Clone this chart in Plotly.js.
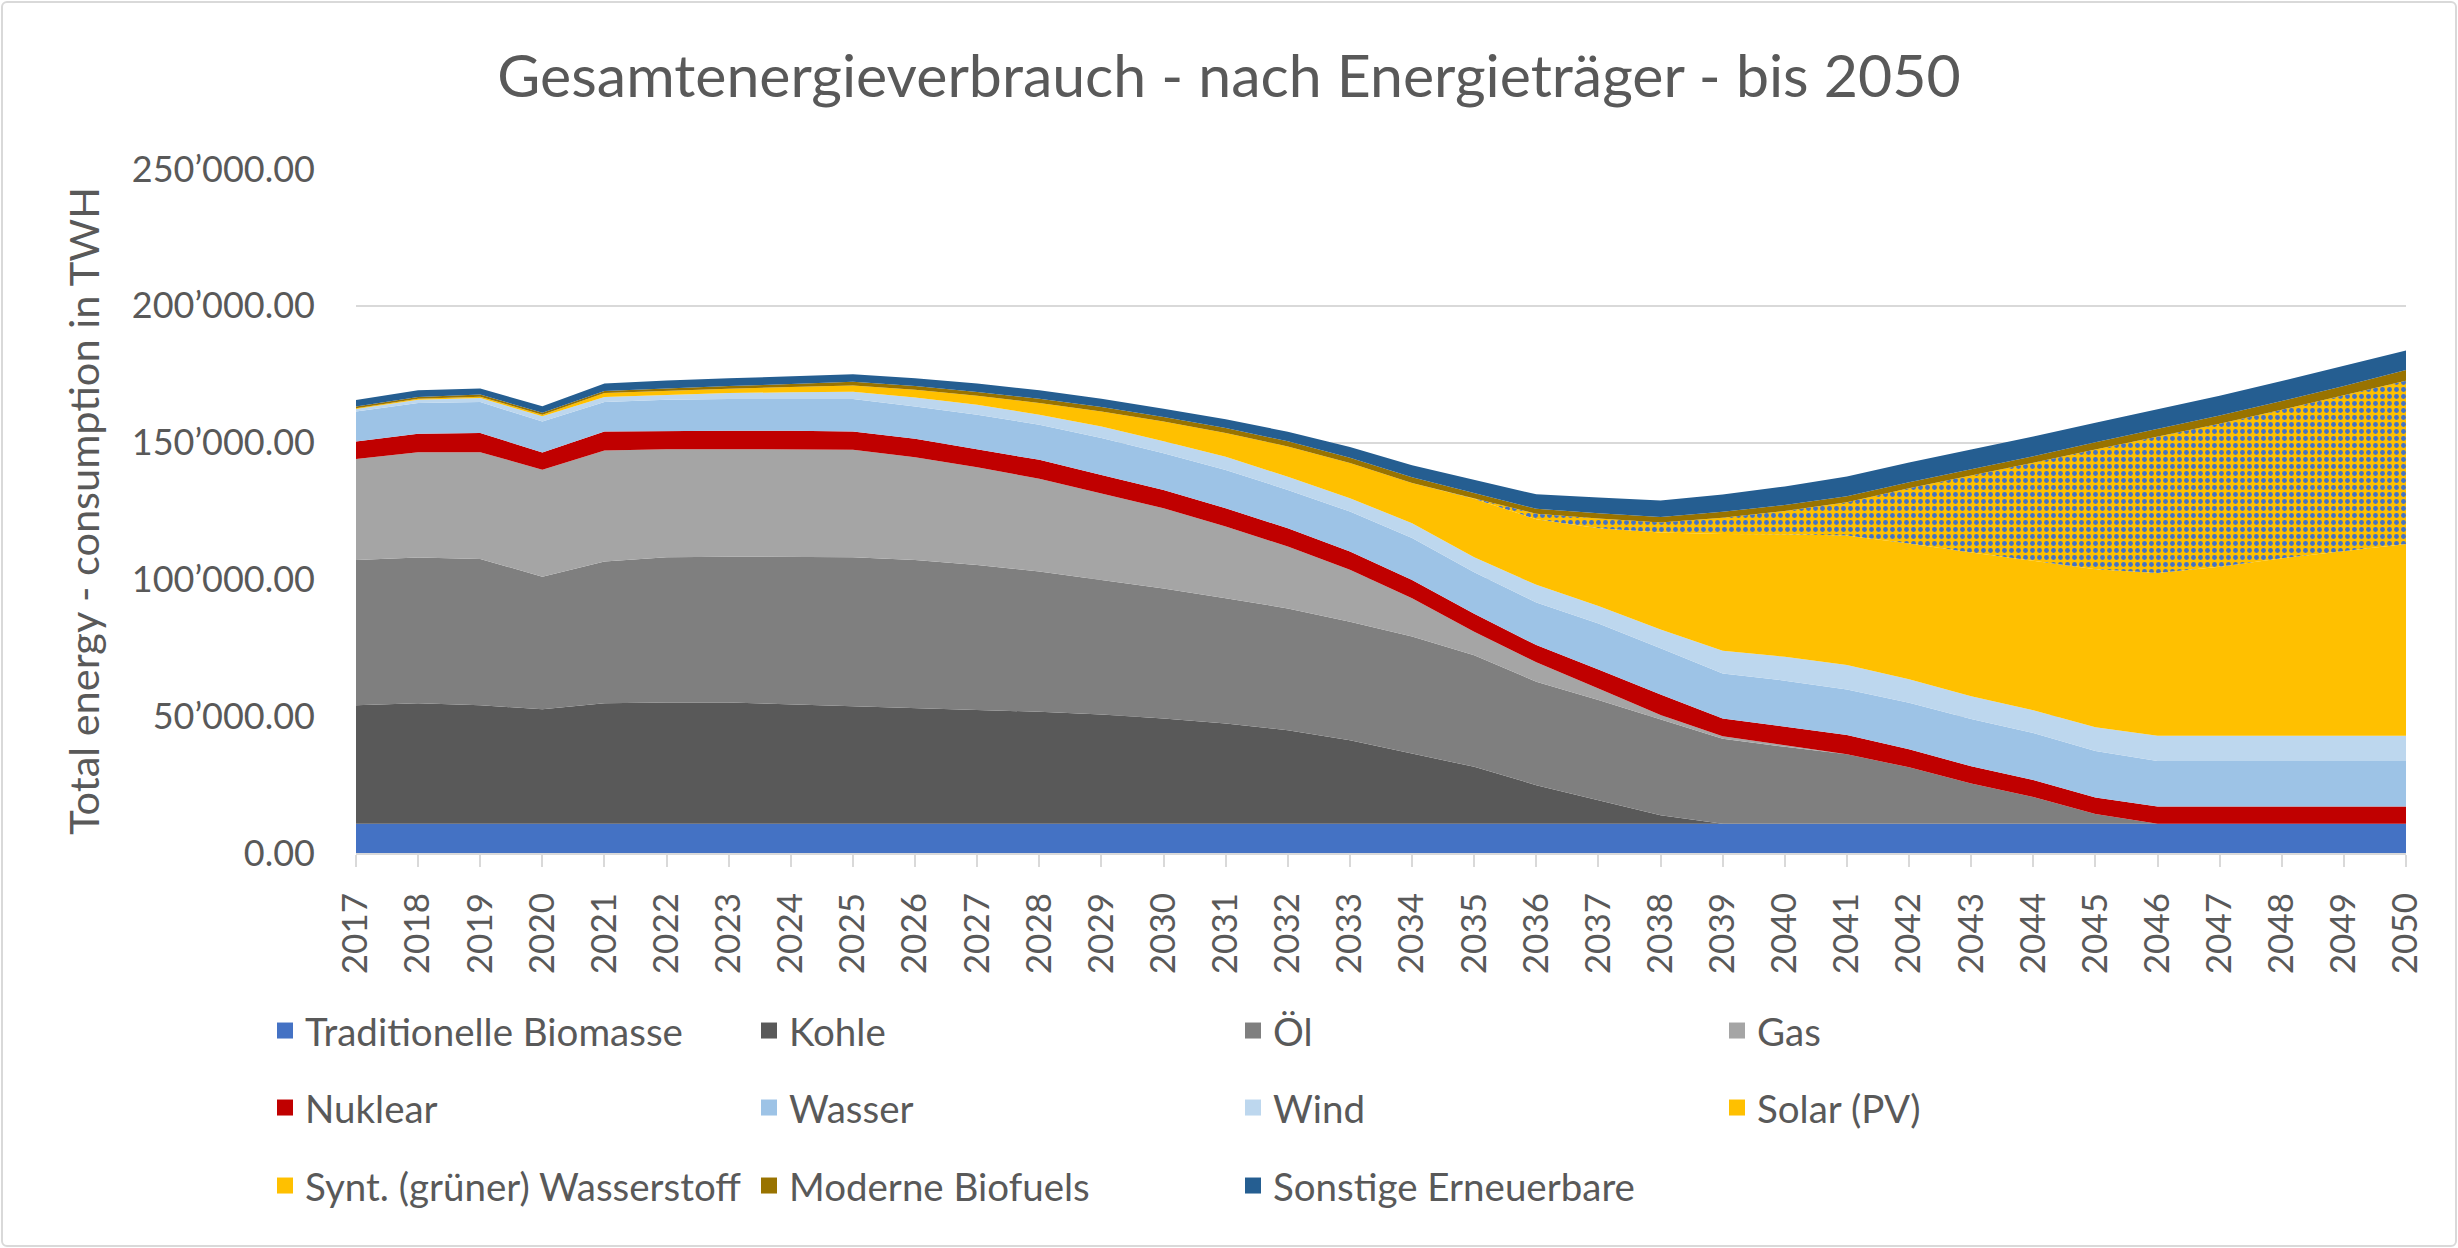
<!DOCTYPE html>
<html>
<head>
<meta charset="utf-8">
<script src="https://cdn.plot.ly/plotly-3.0.1.min.js"></script>
<style>
  html, body { margin: 0; padding: 0; background: #ffffff; }
  #wrap { position: relative; width: 2458px; height: 1248px; }
  #chart { width: 2458px; height: 1248px; }
  #frame { position: absolute; left: 1px; top: 1px; width: 2452px; height: 1242px;
           border: 2px solid #D9D9D9; border-radius: 6px; pointer-events: none; }
</style>
</head>
<body>
<div id="wrap"><div id="chart"></div><div id="frame"></div></div>
<script>
// ---- data (TWh) ----
const years = [2017,2018,2019,2020,2021,2022,2023,2024,2025,2026,2027,2028,2029,2030,2031,2032,2033,2034,
               2035,2036,2037,2038,2039,2040,2041,2042,2043,2044,2045,2046,2047,2048,2049,2050];

const traditionelleBiomasse = [10700,10700,10700,10700,10700,10700,10700,10700,10700,10700,10700,10700,10700,10700,10700,10700,10700,10700,
                               10700,10700,10700,10700,10700,10700,10700,10700,10700,10700,10700,10700,10700,10700,10700,10700];
const kohle   = [43300,44000,43300,41800,44000,44300,44300,43600,43000,42100,41500,40900,39900,38500,36600,34200,30500,25700,
                 20800,14100,8600,3100,0,0,0,0,0,0,0,0,0,0,0,0];
const oel     = [53100,53300,53500,48500,51800,53100,53300,54000,54400,54300,53100,51300,49200,47500,45800,44500,43300,42700,
                 40800,37800,36600,35000,31100,28100,25400,20600,14700,9800,3600,0,0,0,0,0];
const gas     = [36900,38500,39000,39100,40600,39500,39300,39300,39300,37500,35700,33900,31700,29300,26200,22600,19000,14000,
                 8600,7100,4200,1600,900,600,0,0,0,0,0,0,0,0,0,0];
const nuklear = [6400,6700,7000,6300,7000,6700,6700,6700,6700,6800,6600,6900,6700,6700,6700,6700,6700,6700,
                 6500,6300,7000,7500,6500,6700,7000,6600,6300,6200,6000,6300,6300,6300,6300,6300];
const wasser  = [11000,11300,11300,11300,10700,11400,11600,11600,11800,11800,12600,12800,13500,13400,14000,14000,14600,15300,
                 15200,15600,16800,16900,16400,16900,16700,17000,17300,17200,17000,16600,16600,16600,16600,16600];
const wind    = [900,1200,1500,1900,1900,1800,2200,2500,2700,3300,3600,3700,4200,4400,4800,4800,4900,5400,
                 5500,6400,6400,6900,8300,8700,8900,8600,8250,8300,8700,9300,9300,9300,9300,9300];
const solar   = [300,300,500,600,1400,1500,1600,1900,2300,2800,3300,4300,5500,7200,8700,11100,12800,14700,
                 21400,24000,28400,35400,42700,44800,47300,49650,52550,54600,57700,59400,61700,64800,67400,70000];
const wasserstoff = [0,0,0,0,0,0,0,0,0,0,0,0,0,0,0,0,0,0,
                     0,2000,3600,3700,5900,8500,12200,20150,28200,35800,43800,49800,52300,54300,56900,59700];
const biofuels = [600,700,800,700,800,900,1000,1100,1300,1400,1400,1500,1600,1700,1800,1900,2000,2100,
                  2000,1800,1900,2000,2200,2200,2200,2200,2300,2400,2600,2800,3000,3200,3500,3900];
const sonstige = [2400,2400,2200,2400,2700,2800,2800,2900,2800,2800,3100,3100,3000,3000,3200,3500,3900,4400,
                  5000,5300,5700,6000,6300,6800,7200,7200,7200,7200,7200,7200,7200,7300,7300,7200];

const seriesNames = ["Traditionelle Biomasse","Kohle","Öl","Gas","Nuklear","Wasser","Wind","Solar (PV)",
                     "Synt. (grüner) Wasserstoff","Moderne Biofuels","Sonstige Erneuerbare"];
const seriesValues = [traditionelleBiomasse,kohle,oel,gas,nuklear,wasser,wind,solar,wasserstoff,biofuels,sonstige];
const seriesColors = ["#4472C4","#595959","#7F7F7F","#A5A5A5","#C00000","#9DC3E6","#BDD7EE","#FFC000",
                      "#FFC000","#997300","#255E91"];

// ---- styling ----
const FONT = 'Lato, "Open Sans", "Noto Sans", sans-serif';
const TXT = '#595959';
const W = 2458, H = 1248;

const traces = [];
seriesNames.forEach((name, i) => {
  const t = {
    type: 'scatter', mode: 'lines', name: name,
    x: years, y: seriesValues[i],
    stackgroup: 'one',
    line: {width: 0, color: seriesColors[i]},
    fillcolor: seriesColors[i],
    showlegend: false,
    hoverinfo: 'x+y+name'
  };
  if (name.startsWith('Synt.')) {
    t.fillpattern = {shape: '.', bgcolor: '#FFC000', fgcolor: '#4472C4', size: 7, solidity: 0.38, fillmode: 'replace'};
  }
  traces.push(t);
});

// legend entries (3 rows, 4 columns like the original)
const legendIds = ['legend','legend','legend','legend','legend2','legend2','legend2','legend2','legend3','legend3','legend3'];
seriesNames.forEach((name, i) => {
  traces.push({
    type: 'scatter', mode: 'markers', name: name,
    x: [null], y: [null],
    marker: {symbol: 'square', size: 22, color: seriesColors[i], line: {width: 0}},
    legend: legendIds[i], showlegend: true, hoverinfo: 'skip'
  });
});

function legendRow(centerY) {
  return {
    orientation: 'h', xref: 'container', yref: 'container',
    x: (285 - 20) / W, y: 1 - centerY / H, xanchor: 'left', yanchor: 'middle',
    entrywidth: 439, entrywidthmode: 'pixels', itemwidth: 30,
    font: {family: FONT, size: 38.5, color: TXT},
    bgcolor: 'rgba(0,0,0,0)', borderwidth: 0, traceorder: 'normal',
    itemclick: false, itemdoubleclick: false
  };
}

const layout = {
  width: W, height: H,
  paper_bgcolor: '#ffffff', plot_bgcolor: '#ffffff',
  font: {family: FONT, color: TXT},
  separators: '.\u2019',
  margin: {l: 356, r: 52, t: 169, b: 395, pad: 0},
  title: {
    text: 'Gesamtenergieverbrauch - nach Energieträger - bis 2050',
    font: {family: FONT, size: 59, color: TXT},
    xref: 'container', x: 0.5, xanchor: 'center',
    yref: 'container', y: 1 - 76 / H, yanchor: 'middle'
  },
  xaxis: {
    range: [2017, 2050], tickmode: 'linear', tick0: 2017, dtick: 1,
    tickangle: -90, ticks: 'outside', ticklen: 12, tickwidth: 2, tickcolor: '#D9D9D9',
    showline: true, linecolor: '#D9D9D9', linewidth: 2, showgrid: false, zeroline: false,
    tickfont: {family: FONT, size: 35, color: TXT}, ticklabelstandoff: 12,
    fixedrange: true
  },
  yaxis: {
    range: [0, 250000], tickmode: 'linear', tick0: 0, dtick: 50000,
    tickformat: ',.2f', showgrid: true, gridcolor: '#D9D9D9', gridwidth: 2,
    zeroline: false, showline: false, ticks: '',
    tickfont: {family: FONT, size: 36, color: TXT}, ticklabelstandoff: 40,
    title: {text: 'Total energy - consumption in TWH', font: {family: FONT, size: 41.5, color: TXT}, standoff: 19},
    fixedrange: true
  },
  legend: legendRow(1031),
  legend2: legendRow(1108),
  legend3: legendRow(1186),
  hovermode: false,
  showlegend: true
};

Plotly.newPlot('chart', traces, layout, {displayModeBar: false, responsive: false, staticPlot: true});
</script>
</body>
</html>
